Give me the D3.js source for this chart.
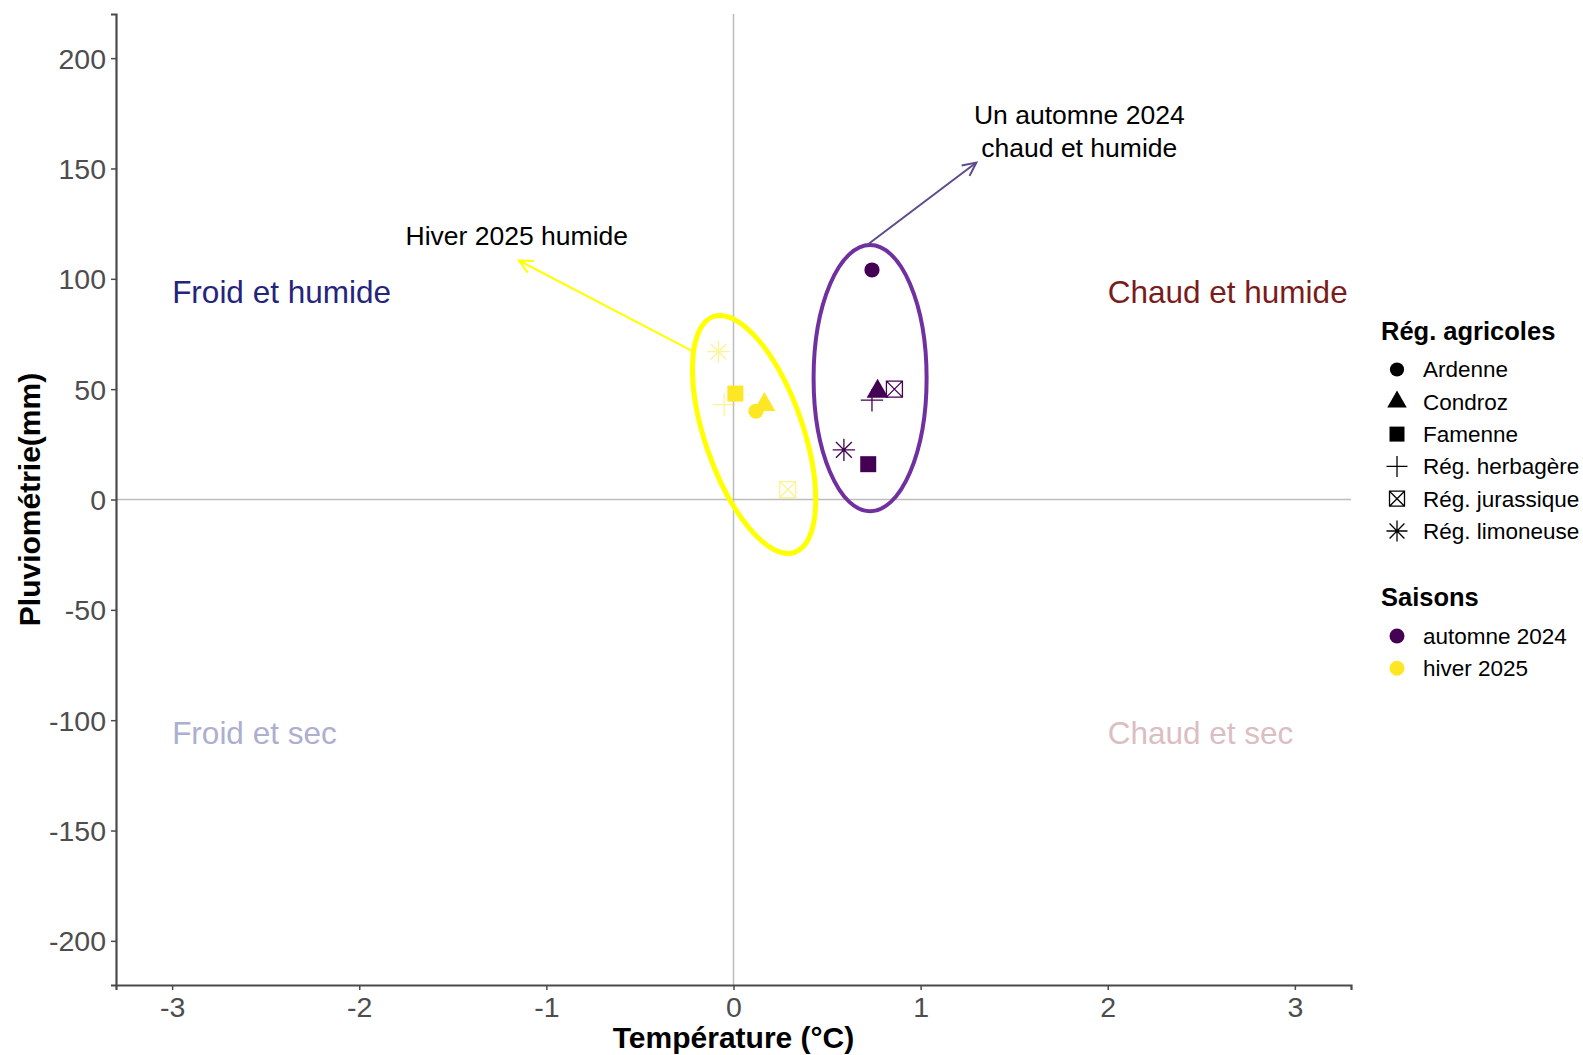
<!DOCTYPE html>
<html>
<head>
<meta charset="utf-8">
<script src="https://cdn.jsdelivr.net/npm/d3@7/dist/d3.min.js"></script>
<style>
  html, body { margin: 0; padding: 0; background: #fff; }
  text { font-family: "Liberation Sans", Arial, sans-serif; }
</style>
</head>
<body>
<svg id="chart" width="1583" height="1055"></svg>
<script>
// ---------------- DATA ----------------
const regions = ["Ardenne", "Condroz", "Famenne", "Rég. herbagère", "Rég. jurassique", "Rég. limoneuse"];
const regionShapes = ["circle", "triangle", "square", "plus", "squarecross", "asterisk"];
const seasons = ["automne 2024", "hiver 2025"];
const seasonColors = ["#440154", "#FDE725"];

const autumnTemp = [0.74, 0.77, 0.72, 0.74, 0.86, 0.59];
const autumnRain = [104, 49, 16, 45, 50, 22.5];
const winterTemp = [0.12, 0.165, 0.01, -0.05, 0.29, -0.08];
const winterRain = [40, 43, 48, 43, 4.5, 67];

const xTicks = [-3, -2, -1, 0, 1, 2, 3];
const yTicks = [-200, -150, -100, -50, 0, 50, 100, 150, 200];
const xDomain = [-3.3, 3.3];
const yDomain = [-220, 220];

const quadrantLabels = [
  { text: "Froid et humide", x: -3, y: 94, color: "#25247c" },
  { text: "Chaud et humide", x: 2, y: 94, color: "#7a1c1c" },
  { text: "Froid et sec", x: -3, y: -106, color: "#aeaed0" },
  { text: "Chaud et sec", x: 2, y: -106, color: "#dbbec2" }
];

// ---------------- LAYOUT ----------------
const svg = d3.select("#chart");
const plot = { left: 116, right: 1351, top: 14, bottom: 985 };
const x = d3.scaleLinear().domain(xDomain).range([plot.left, plot.right]);
const y = d3.scaleLinear().domain(yDomain).range([plot.bottom, plot.top]);

// reference lines
svg.append("line").attr("x1", x(0)).attr("x2", x(0)).attr("y1", plot.top).attr("y2", plot.bottom)
  .attr("stroke", "#bdbdbd").attr("stroke-width", 1.5);
svg.append("line").attr("x1", plot.left).attr("x2", plot.right).attr("y1", y(0)).attr("y2", y(0))
  .attr("stroke", "#bdbdbd").attr("stroke-width", 1.5);

// axes
const xAxis = svg.append("g").attr("transform", `translate(0,${plot.bottom})`)
  .call(d3.axisBottom(x).tickValues(xTicks).tickSize(5).tickPadding(5).tickFormat(d3.format("d")));
const yAxis = svg.append("g").attr("transform", `translate(${plot.left},0)`)
  .call(d3.axisLeft(y).tickValues(yTicks).tickSize(5).tickPadding(5).tickFormat(d3.format("d")));
[xAxis, yAxis].forEach(g => {
  g.select(".domain").attr("stroke", "#4a4a4a").attr("stroke-width", 2.2);
  g.selectAll(".tick line").attr("stroke", "#4a4a4a").attr("stroke-width", 1.5);
  g.selectAll(".tick text").attr("fill", "#4d4d4d").style("font-size", "28.5px")
    .style("font-family", '"Liberation Sans", Arial, sans-serif');
});
xAxis.selectAll(".tick text").attr("dy", "0.78em");
yAxis.selectAll(".tick text").attr("dy", "0.35em");
svg.selectAll(".tick text").text(function(d){ return String(d).replace("−", "-"); });

// axis titles
svg.append("text").attr("x", x(0)).attr("y", 1048).attr("text-anchor", "middle")
  .style("font-size", "30px").style("font-weight", "bold").text("Température (°C)");
svg.append("text").attr("transform", `translate(40,${y(0)}) rotate(-90)`).attr("text-anchor", "middle")
  .style("font-size", "30px").style("font-weight", "bold").text("Pluviométrie(mm)");

// quadrant labels
svg.selectAll(".quad").data(quadrantLabels).enter().append("text")
  .attr("x", d => x(d.x)).attr("y", d => y(d.y)).attr("dy", "0.35em")
  .attr("fill", d => d.color).style("font-size", "31.5px").text(d => d.text);

// ---------------- SHAPES ----------------
function shapePath(shape, s) {
  const h = s / 2;
  switch (shape) {
    case "circle": return d3.symbol(d3.symbolCircle, Math.PI * h * h * 0.9)();
    case "triangle": {
      const t = s * 1.15, hh = t * Math.sqrt(3) / 2;
      return `M0,${-hh * 2 / 3}L${t / 2},${hh / 3}L${-t / 2},${hh / 3}Z`;
    }
    case "square": return `M${-h},${-h}H${h}V${h}H${-h}Z`;
    case "plus": { const p = s * 0.7; return `M${-p},0H${p}M0,${-p}V${p}`; }
    case "squarecross": return `M${-h},${-h}H${h}V${h}H${-h}ZM${-h},${-h}L${h},${h}M${h},${-h}L${-h},${h}`;
    case "asterisk": {
      const p = s * 0.7, q = p * Math.SQRT1_2;
      return `M${-p},0H${p}M0,${-p}V${p}M${-q},${-q}L${q},${q}M${q},${-q}L${-q},${q}`;
    }
  }
}
const filledShapes = ["circle", "triangle", "square"];

function drawPoint(g, shape, color, px, py, size, faint) {
  const filled = filledShapes.includes(shape);
  g.append("path").attr("d", shapePath(shape, size))
    .attr("transform", `translate(${px},${py})`)
    .attr("fill", filled ? color : "none")
    .attr("stroke", filled ? "none" : color)
    .attr("stroke-width", filled ? 0 : 1.3)
    .attr("opacity", (!filled && faint) ? 0.5 : 1);
}

// ---------------- ANNOTATIONS (under points) ----------------
const annotations = svg.append("g");
const purpleEllipse = { cx: 0.73, cy: 55, rx: 0.302, ry: 60.3, angle: 0 };
const yellowEllipse = { cx: 0.11, cy: 29.5, rx: 0.262, ry: 56.5, angle: -19 };
[[purpleEllipse, "#7030a0", 4], [yellowEllipse, "#ffff00", 5]].forEach(([e, c, w]) => {
  annotations.append("ellipse")
    .attr("transform", `translate(${x(e.cx)},${y(e.cy)}) rotate(${e.angle})`)
    .attr("rx", x(e.rx) - x(0)).attr("ry", y(0) - y(e.ry))
    .attr("fill", "none").attr("stroke", c).attr("stroke-width", w);
});

function arrow(x1, y1, x2, y2, color, w) {
  const X1 = x(x1), Y1 = y(y1), X2 = x(x2), Y2 = y(y2);
  annotations.append("line").attr("x1", X1).attr("y1", Y1).attr("x2", X2).attr("y2", Y2)
    .attr("stroke", color).attr("stroke-width", w);
  const ang = Math.atan2(Y2 - Y1, X2 - X1), L = 15, a = 0.45;
  const p1 = [X2 - L * Math.cos(ang - a), Y2 - L * Math.sin(ang - a)];
  const p2 = [X2 - L * Math.cos(ang + a), Y2 - L * Math.sin(ang + a)];
  annotations.append("path").attr("d", `M${p1}L${X2},${Y2}L${p2}`)
    .attr("fill", "none").attr("stroke", color).attr("stroke-width", w);
}
arrow(-0.219, 67.2, -1.147, 108.3, "#ffff00", 2);
arrow(0.712, 115.2, 1.298, 152.7, "#5f4a8b", 2);

annotations.append("text").attr("x", x(-1.158)).attr("y", 245)
  .attr("text-anchor", "middle").style("font-size", "26.5px").text("Hiver 2025 humide");
const autText = annotations.append("text").attr("text-anchor", "middle").style("font-size", "26.5px");
autText.append("tspan").attr("x", x(1.848)).attr("y", 124).text("Un automne 2024");
autText.append("tspan").attr("x", x(1.848)).attr("y", 156.5).text("chaud et humide");

// ---------------- POINTS ----------------
const pts = svg.append("g");
const sizes = { circle: 16, triangle: 19, square: 16, plus: 16, squarecross: 16, asterisk: 16 };
regions.forEach((r, i) => {
  const sh = regionShapes[i];
  drawPoint(pts, sh, seasonColors[0], x(autumnTemp[i]), y(autumnRain[i]), sizes[sh], false);
});
regions.forEach((r, i) => {
  const sh = regionShapes[i];
  drawPoint(pts, sh, seasonColors[1], x(winterTemp[i]), y(winterRain[i]), sizes[sh], true);
});

// ---------------- LEGEND ----------------
const leg = svg.append("g");
leg.append("text").attr("x", 1381).attr("y", 331).attr("dy", "0.35em")
  .style("font-size", "25.5px").style("font-weight", "bold").text("Rég. agricoles");
regions.forEach((r, i) => {
  const cy = 369.5 + i * 32.3;
  drawPoint(leg, regionShapes[i], "#000", 1397, cy, i === 1 ? 17 : 15, false);
  leg.append("text").attr("x", 1423).attr("y", cy).attr("dy", "0.35em")
    .style("font-size", "22.5px").text(r);
});
leg.append("text").attr("x", 1381).attr("y", 597.5).attr("dy", "0.35em")
  .style("font-size", "25.5px").style("font-weight", "bold").text("Saisons");
seasons.forEach((s, i) => {
  const cy = 636 + i * 32.3;
  leg.append("circle").attr("cx", 1397).attr("cy", cy).attr("r", 7.5).attr("fill", seasonColors[i]);
  leg.append("text").attr("x", 1423).attr("y", cy).attr("dy", "0.35em")
    .style("font-size", "22.5px").text(s);
});
</script>
</body>
</html>
